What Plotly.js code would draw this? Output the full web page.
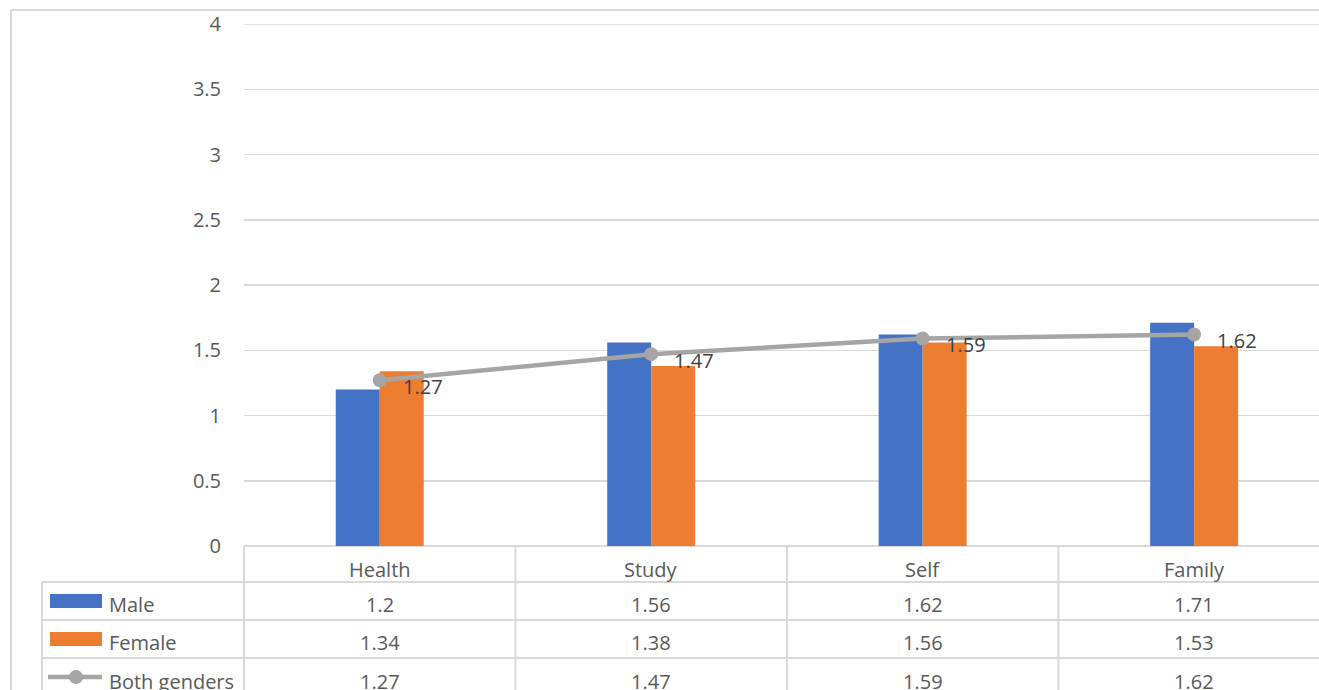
<!DOCTYPE html>
<html>
<head>
<meta charset="utf-8">
<script src="https://cdn.plot.ly/plotly-3.0.1.min.js"></script>
<style>html,body{margin:0;padding:0;background:#fff;overflow:hidden}#chart{width:1319px;height:690px}</style>
</head>
<body>
<div id="chart"></div>
<script>
const categories = ["Health", "Study", "Self", "Family"];
const maleValues = [1.2, 1.56, 1.62, 1.71];
const femaleValues = [1.34, 1.38, 1.56, 1.53];
const bothValues = [1.27, 1.47, 1.59, 1.62];
const seriesNames = ["Male", "Female", "Both genders"];
const yMax = 4;

const W = 1319, H = 690, L = 244, T = 24, B = 144;
const plotH = H - T - B, plotW = W - L;
const bottomPx = H - B;
const px = x => (x - L) / plotW;
const py = y => (bottomPx - y) / plotH;
const FONT = "Open Sans, sans-serif";
const grid = "#d9d9d9";
const txt = "#595959";

const traces = [
  {type: "bar", x: categories, y: maleValues, name: seriesNames[0], marker: {color: "#4472C4"}, hoverinfo: "skip"},
  {type: "bar", x: categories, y: femaleValues, name: seriesNames[1], marker: {color: "#ED7D31"}, hoverinfo: "skip"},
  {type: "scatter", mode: "lines+markers", x: categories, y: bothValues, name: seriesNames[2],
   line: {color: "#A5A5A5", width: 4.5}, marker: {color: "#A5A5A5", size: 14}, hoverinfo: "skip", cliponaxis: false}
];

const annotations = [];
const shapes = [];

// data labels for line
bothValues.forEach((v, i) => annotations.push({
  x: categories[i], y: v, xref: "x", yref: "y", text: String(v), showarrow: false,
  xanchor: "left", yanchor: "middle", xshift: 21, yshift: -6,
  font: {family: FONT, size: 20, color: "#404040"}
}));

// table header (categories)
categories.forEach(c => annotations.push({
  x: c, y: py(569), xref: "x", yref: "paper", text: c, showarrow: false,
  xanchor: "center", yanchor: "middle", font: {family: FONT, size: 20, color: txt}
}));

// table rows
const rows = [maleValues, femaleValues, bothValues];
const rowCenters = [604, 642, 681];
rows.forEach((vals, r) => {
  annotations.push({
    x: px(107), y: py(rowCenters[r]), xref: "paper", yref: "paper", text: seriesNames[r],
    showarrow: false, xanchor: "left", yanchor: "middle", font: {family: FONT, size: 20, color: txt}
  });
  vals.forEach((v, i) => annotations.push({
    x: categories[i], y: py(rowCenters[r]), xref: "x", yref: "paper", text: String(v),
    showarrow: false, xanchor: "center", yanchor: "middle", font: {family: FONT, size: 20, color: txt}
  }));
});

// top gridline at y max
shapes.push({type: "line", xref: "paper", yref: "y", x0: 0, x1: px(W + 20), y0: yMax, y1: yMax,
  line: {color: grid, width: 1.5}, layer: "below"});

// table lines
[582, 620, 658].forEach(y => shapes.push({
  type: "line", xref: "paper", yref: "paper", x0: px(42), x1: px(W + 20), y0: py(y), y1: py(y),
  line: {color: grid, width: 2}, layer: "below"
}));
shapes.push({type: "line", xref: "paper", yref: "paper", x0: 0, x1: 0, y0: 0, y1: py(700), line: {color: grid, width: 2}});
shapes.push({type: "line", xref: "paper", yref: "paper", x0: px(42), x1: px(42), y0: py(582), y1: py(700), line: {color: grid, width: 2}});
[0.5, 1.5, 2.5].forEach(x => shapes.push({
  type: "line", xref: "x", yref: "paper", x0: x, x1: x, y0: 0, y1: py(700), line: {color: grid, width: 2}
}));
// outer border
shapes.push({type: "line", xref: "paper", yref: "paper", x0: px(11), x1: px(11), y0: py(10), y1: py(700), line: {color: grid, width: 2}});
shapes.push({type: "line", xref: "paper", yref: "paper", x0: px(11), x1: px(W + 20), y0: py(10), y1: py(10), line: {color: grid, width: 2}});

// legend keys
shapes.push({type: "rect", xref: "paper", yref: "paper", x0: px(50), x1: px(102), y0: py(594), y1: py(608), fillcolor: "#4472C4", line: {width: 0}});
shapes.push({type: "rect", xref: "paper", yref: "paper", x0: px(50), x1: px(102), y0: py(632), y1: py(646), fillcolor: "#ED7D31", line: {width: 0}});
shapes.push({type: "line", xref: "paper", yref: "paper", x0: px(48), x1: px(102), y0: py(677), y1: py(677), line: {color: "#A5A5A5", width: 4.5}});
shapes.push({type: "circle", xref: "paper", yref: "paper", x0: px(69), x1: px(83), y0: py(670), y1: py(684), fillcolor: "#A5A5A5", line: {width: 0}});

const layout = {
  width: W, height: H,
  margin: {l: L, r: 0, t: T, b: B, pad: 0},
  paper_bgcolor: "#fff", plot_bgcolor: "#fff",
  showlegend: false,
  barmode: "group", bargap: 0.676, bargroupgap: 0,
  xaxis: {range: [-0.5, 3.46], showticklabels: false, showgrid: false, zeroline: false, showline: false, fixedrange: true},
  yaxis: {range: [0, yMax], dtick: 0.5, tick0: 0, showgrid: true, gridcolor: grid, gridwidth: 1.5,
          zeroline: true, zerolinecolor: grid, zerolinewidth: 2, showline: false, ticks: "",
          ticklabelstandoff: 22, tickfont: {family: FONT, size: 20, color: txt}, fixedrange: true},
  annotations: annotations,
  shapes: shapes,
  font: {family: FONT}
};

Plotly.newPlot("chart", traces, layout, {displayModeBar: false, staticPlot: true});
</script>
</body>
</html>
